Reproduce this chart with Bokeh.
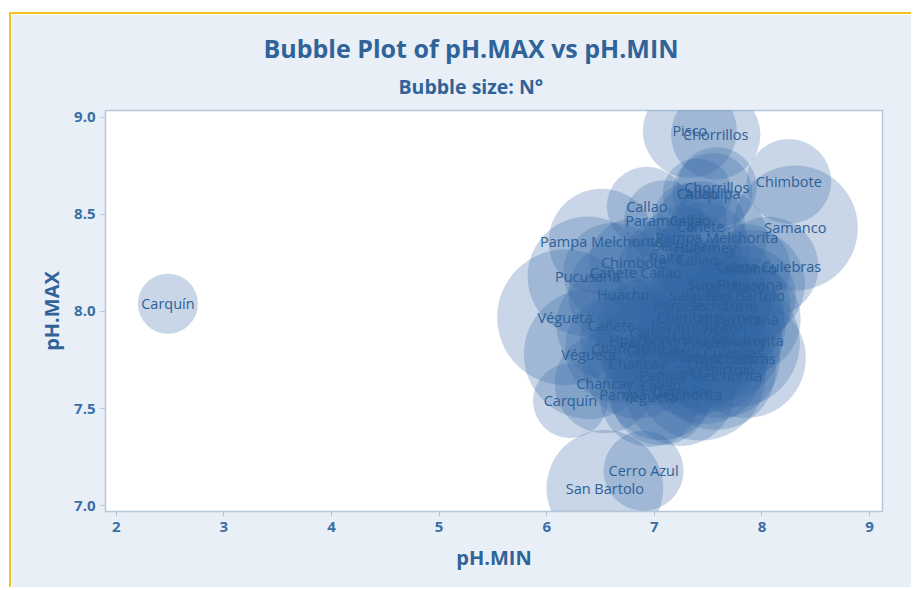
import math
from bokeh.plotting import figure
from bokeh.models import ColumnDataSource, Title, FixedTicker, Range1d, PrintfTickFormatter
from bokeh.core.properties import value
from bokeh.embed import file_html
from bokeh.resources import INLINE

# ---- data ----
names = [
    "Carquín", "Pisco", "Chorrillos", "Chimbote", "Chorrillos", "Callao", "Atiquipa",
    "Callao", "Paramonga", "Callao", "Cañete", "Samanco", "Pampa Melchorita",
    "Pampa Melchorita", "Sechura", "Huarmey", "Paita", "Callao", "Chimbote",
    "Caleta Culebras", "Samanco", "Cañete", "Callao", "Pucusana", "Pucusana", "Supe",
    "Huanchaco", "Huacho", "San Bartolo", "Salaverry", "Paracas", "Sechura", "Lurín",
    "Chimbote", "Huarmey", "Pucusana", "Végueta", "Cañete", "Paramonga", "Ancón",
    "Callao", "Chancay", "Huacho", "Paracas", "Pisco", "Salaverry", "Pampa Melchorita",
    "Chancay", "Chancay", "Caleta Culebras", "Végueta", "Sechura", "Huanchaco",
    "Culebras", "Chancay", "Lurín", "San Bartolo", "Pampa Melchorita", "Chancay",
    "Callao", "Carquín", "Pampa Melchorita", "Végueta", "Carquín", "Cerro Azul",
    "San Bartolo",
]
ph_min = [
    2.48, 7.33, 7.57, 8.25, 7.58, 7.40, 7.54,
    6.93, 7.09, 7.33, 7.43, 8.31, 6.51,
    7.58, 7.24, 7.47, 7.11, 7.40, 6.81,
    8.06, 7.85, 6.62, 7.06, 6.38, 7.89, 7.47,
    7.68, 6.71, 7.85, 7.43, 7.24, 7.57, 7.80,
    7.33, 7.70, 7.85, 6.17, 6.60, 7.33, 7.66,
    6.96, 7.43, 6.82, 6.92, 7.43, 7.75, 7.63,
    6.68, 7.01, 7.52, 6.39, 7.33, 7.61,
    7.85, 6.84, 7.47, 7.57, 7.43, 6.54,
    7.06, 7.24, 7.06, 6.96, 6.22, 6.90,
    6.54,
]
ph_max = [
    8.04, 8.93, 8.91, 8.67, 8.64, 8.61, 8.61,
    8.54, 8.47, 8.47, 8.44, 8.43, 8.36,
    8.38, 8.34, 8.33, 8.28, 8.27, 8.25,
    8.23, 8.22, 8.20, 8.20, 8.18, 8.14, 8.14,
    8.13, 8.09, 8.08, 8.08, 8.03, 8.03, 8.03,
    7.97, 7.97, 7.96, 7.97, 7.93, 7.93, 7.92,
    7.89, 7.88, 7.85, 7.84, 7.84, 7.84, 7.85,
    7.81, 7.80, 7.79, 7.78, 7.77, 7.76,
    7.76, 7.73, 7.73, 7.70, 7.67, 7.63,
    7.62, 7.59, 7.57, 7.56, 7.54, 7.18,
    7.09,
]
n_count = [
    9, 22, 20, 18, 16, 12, 16,
    16, 16, 14, 20, 39, 28,
    25, 16, 20, 16, 20, 20,
    25, 20, 25, 20, 36, 30, 20,
    25, 30, 25, 25, 25, 30, 25,
    30, 30, 30, 46, 30, 30, 36,
    30, 36, 30, 25, 42, 42, 36,
    30, 30, 36, 42, 36, 36,
    36, 30, 36, 36, 42, 25,
    30, 30, 25, 25, 14, 16,
    34,
]
x_ticks = [2, 3, 4, 5, 6, 7, 8, 9]
y_ticks = [7.0, 7.5, 8.0, 8.5, 9.0]

# bubble diameter (screen px) proportional to sqrt(N)
bubble_d = [20 * math.sqrt(n) for n in n_count]

src = ColumnDataSource(dict(x=ph_min, y=ph_max, name=names, n=n_count, d=bubble_d))

FONT = "Open Sans"
BLUE = "#3469A6"
TXT = "#2F6399"

p = figure(
    width=902, height=575,
    x_range=Range1d(1.9, 9.12), y_range=Range1d(6.97, 9.035),
    output_backend="svg", toolbar_location=None,
    min_border_left=94, min_border_right=31, min_border_top=96, min_border_bottom=78,
    background_fill_color="white", border_fill_color="#E9EFF6",
)
p.margin = (12, 0, 0, 9)
p.styles = {"border-top": "2px solid #F7C21A", "border-left": "2px solid #F7C21A"}
p.title.visible = False

p.scatter("x", "y", size="d", source=src, fill_color=BLUE, fill_alpha=0.27, line_color=None)
p.text("x", "y", text="name", source=src, text_align="center", text_baseline="middle",
       text_font=value(FONT), text_font_size="14.5px", text_color="#2D5F98")

p.xgrid.visible = False
p.ygrid.visible = False
p.outline_line_color = "#B5C7DA"
p.outline_line_width = 1.5

p.xaxis.ticker = FixedTicker(ticks=x_ticks)
p.yaxis.ticker = FixedTicker(ticks=y_ticks)
p.yaxis.formatter = PrintfTickFormatter(format="%.1f")
p.xaxis.formatter = PrintfTickFormatter(format="%d")
for ax in (p.xaxis, p.yaxis):
    ax.axis_line_color = "#B5C7DA"
    ax.major_tick_line_color = "#B5C7DA"
    ax.major_tick_in = 0
    ax.major_tick_out = 5
    ax.minor_tick_line_color = None
    ax.major_label_text_font = FONT
    ax.major_label_text_font_size = "15px"
    ax.major_label_text_font_style = "bold"
    ax.major_label_text_color = "#3A6EA5"
    ax.axis_label_text_font = FONT
    ax.axis_label_text_font_size = "20px"
    ax.axis_label_text_font_style = "bold"
    ax.axis_label_text_color = TXT
p.xaxis.axis_label = "pH.MIN"
p.yaxis.axis_label = "pH.MAX"
p.xaxis.axis_label_standoff = 9
p.yaxis.axis_label_standoff = 6

p.add_layout(Title(text="Bubble size: N°", align="left", offset=293, standoff=17,
                   vertical_align="top", text_font=FONT, text_font_size="19.5px",
                   text_font_style="bold", text_color=TXT), "above")
p.add_layout(Title(text="Bubble Plot of pH.MAX vs pH.MIN", align="left", offset=158,
                   standoff=0, text_font=FONT,
                   text_font_size="25px", text_font_style="bold", text_color=TXT), "above")

open("out.html", "w").write(file_html(p, INLINE))
